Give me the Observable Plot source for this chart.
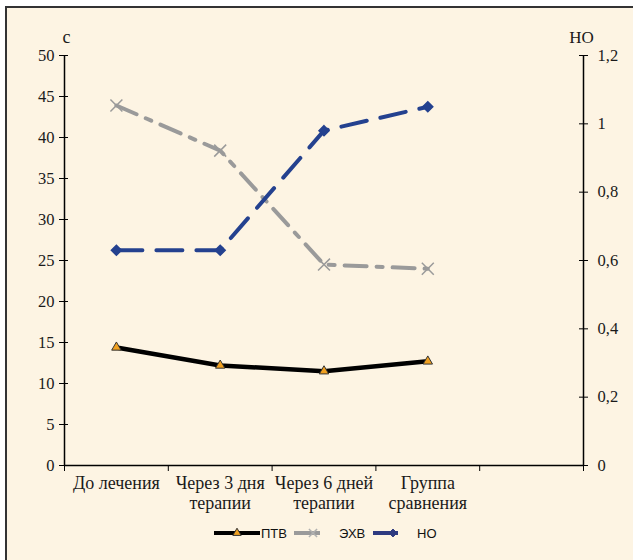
<!DOCTYPE html>
<html>
<head>
<meta charset="utf-8">
<script src="https://cdn.jsdelivr.net/npm/d3@7"></script>
<script src="https://cdn.jsdelivr.net/npm/@observablehq/plot@0.6"></script>
<style>
  html, body { margin: 0; padding: 0; background: #fff; }
  #frame {
    position: absolute; left: 5px; top: 6px; width: 628px; height: 554px;
    background: #fdf4e3; border-left: 2px solid #333; border-top: 2px solid #333;
    box-sizing: border-box;
  }
  #chart { position: absolute; left: 0; top: 0; }
  #legend { position: absolute; left: 0; top: 518px; }
</style>
</head>
<body>
<div id="frame"></div>
<div id="chart"></div>
<div id="legend"></div>
<script>
// Measurement points (an extra empty slot follows the last one on the x axis)
const categories = ["До лечения", "Через 3 дня\nтерапии", "Через 6 дней\nтерапии", "Группа\nсравнения"];
const ptv = [14.4, 12.2, 11.5, 12.7];   // ПТВ, с (left axis)
const echv = [43.9, 38.4, 24.5, 24.0];  // ЭХВ, с (left axis)
const no = [0.63, 0.63, 0.98, 1.05];    // НО (right axis)

const leftTicks = [0, 5, 10, 15, 20, 25, 30, 35, 40, 45, 50];
const rightTicks = [0, 0.2, 0.4, 0.6, 0.8, 1, 1.2];

const series = [
  {name: "ПТВ", color: "#000000", marker: "#f0a020"},
  {name: "ЭХВ", color: "#9a9a9a", marker: "#9a9a9a"},
  {name: "НО", color: "#24418f", marker: "#24418f"}
];

// The right axis (НО) is drawn on the left scale via a fixed ratio
const leftMax = leftTicks[leftTicks.length - 1];
const rightMax = rightTicks[rightTicks.length - 1];
const k = leftMax / rightMax;

const rows = categories.map((c, i) => ({i, ptv: ptv[i], echv: echv[i], no: no[i] * k}));
const xDomain = [-0.5, categories.length + 0.5];
const slotEdges = d3.range(categories.length + 2).map(i => i - 0.5);
const commaFmt = v => d3.format(".1~f")(v).replace(".", ",");

const chart = Plot.plot({
  width: 633,
  height: 515,
  marginLeft: 64,
  marginRight: 50,
  marginTop: 55,
  marginBottom: 50,
  style: {background: "transparent", fontFamily: "'Liberation Serif', 'Times New Roman', serif", fontSize: "16px", color: "#1a1a1a"},
  x: {domain: xDomain},
  y: {domain: [0, leftMax]},
  marks: [
    // left axis
    Plot.axisY({ticks: leftTicks, tickSize: 9, tickPadding: 5, dx: 4, label: null, fontSize: 16.5, stroke: "#000"}),
    // right axis
    Plot.axisY({anchor: "right", ticks: rightTicks.map(v => v * k), tickFormat: v => commaFmt(v / k),
      tickSize: 9, tickPadding: 10, dx: -5, label: null, fontSize: 16.5, stroke: "#000"}),
    // x slot separators
    Plot.axisX({ticks: slotEdges, tickFormat: () => "", tickSize: 6, label: null, stroke: "#000"}),
    // category labels
    Plot.axisX({ticks: categories.map((_, i) => i), tickFormat: i => categories[i], tickSize: 0,
      tickPadding: 10, label: null, fontSize: 18, lineHeight: 1.08}),
    Plot.ruleX([xDomain[0], xDomain[1]], {stroke: "#000", strokeWidth: 1.5}),
    Plot.ruleY([0], {stroke: "#000", strokeWidth: 1.5}),
    // axis titles
    Plot.text(["с"], {frameAnchor: "top-left", textAnchor: "middle", dx: 2, dy: -25, fontSize: 18}),
    Plot.text(["НО"], {frameAnchor: "top-right", textAnchor: "middle", dx: -2, dy: -25, fontSize: 17}),
    // series
    Plot.line(rows, {x: "i", y: "echv", stroke: series[1].color, strokeWidth: 4, strokeDasharray: "22,10,6,10"}),
    Plot.line(rows, {x: "i", y: "no", stroke: series[2].color, strokeWidth: 4, strokeDasharray: "26,14"}),
    Plot.line(rows, {x: "i", y: "ptv", stroke: series[0].color, strokeWidth: 4.5}),
    Plot.dot(rows, {x: "i", y: "echv", symbol: "times", r: 5.5, stroke: series[1].marker, strokeWidth: 1.5}),
    Plot.dot(rows, {x: "i", y: "no", symbol: "diamond2", r: 4.5, fill: series[2].marker, stroke: series[2].marker, strokeWidth: 1.5}),
    Plot.dot(rows, {x: "i", y: "ptv", symbol: "triangle", r: 3.5, fill: series[0].marker, stroke: "#333", strokeWidth: 1})
  ]
});
document.getElementById("chart").append(chart);

// Legend below the chart
const lg = d3.select("#legend").append("svg").attr("width", 633).attr("height", 30)
  .style("font-family", "'Liberation Sans', Arial, sans-serif").style("font-size", "13px");
const items = [
  {s: series[0], x0: 214, x1: 260, mx: 237, sym: d3.symbolTriangle, size: 30, tx: 261},
  {s: series[1], x0: 294, x1: 320, mx: 313, sym: d3.symbolTimes, size: 45, tx: 339},
  {s: {...series[2], color: "#2e3a80", marker: "#2e3a80"}, x0: 373, x1: 398, mx: 393, sym: d3.symbolDiamond2, size: 40, tx: 417}
];
const ly = 15;
for (const it of items) {
  lg.append("line").attr("x1", it.x0).attr("x2", it.x1).attr("y1", ly).attr("y2", ly)
    .attr("stroke", it.s.color).attr("stroke-width", 4);
  const p = lg.append("path").attr("d", d3.symbol(it.sym, it.size)()).attr("transform", `translate(${it.mx},${ly})`);
  if (it.sym === d3.symbolTimes) p.attr("fill", "none").attr("stroke", "#b0b0b0").attr("stroke-width", 1.5);
  else if (it.sym === d3.symbolTriangle) p.attr("fill", it.s.marker).attr("stroke", "#333").attr("stroke-width", 1);
  else p.attr("fill", it.s.marker).attr("stroke", it.s.marker);
  lg.append("text").attr("x", it.tx).attr("y", ly).attr("dy", "0.35em").attr("fill", "#111").text(it.s.name);
}
</script>
</body>
</html>
